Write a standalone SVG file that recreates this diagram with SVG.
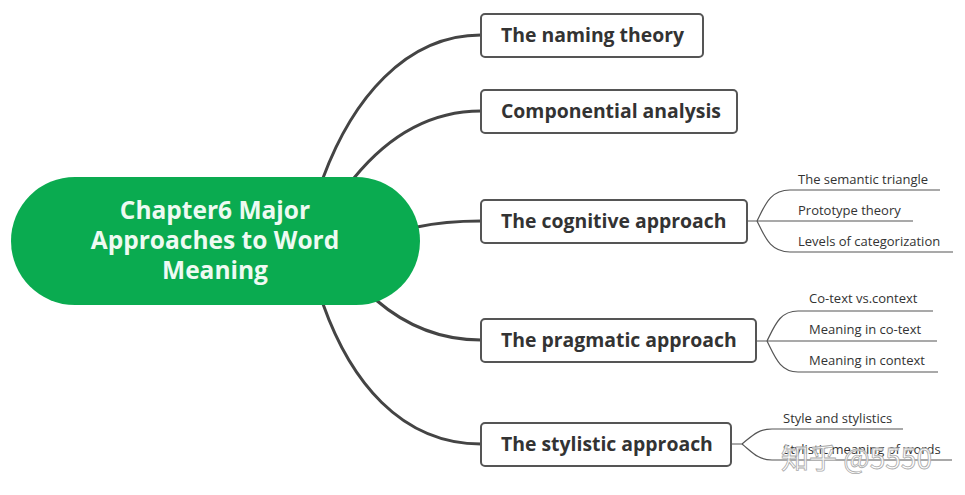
<svg xmlns="http://www.w3.org/2000/svg" width="965" height="495" viewBox="0 0 965 495">
<style>
.main{stroke:#444;stroke-width:3;fill:none}
.sub{stroke:#555;stroke-width:1.2;fill:none}
.box{fill:#fff;stroke:#555;stroke-width:2}
.bt{font-family:"Open Sans","Noto Sans",sans-serif;font-weight:bold;font-size:19.4px;fill:#333}
.lt{font-family:"Open Sans","Noto Sans",sans-serif;font-size:13px;fill:#333}
.ct{font-family:"Open Sans","Noto Sans",sans-serif;font-weight:bold;font-size:24.5px;fill:#eefaf2;text-anchor:middle}
.wm{font-family:"Noto Sans CJK SC","Noto Sans",sans-serif;font-size:28px;fill:#fff;fill-opacity:0.85;stroke:#aaa;stroke-width:0.8}
</style>
<rect width="965" height="495" fill="#fff"/>
<g id="connectors">
<path class="main" d="M323,178 C352,100 405,35 481,35"/>
<path class="main" d="M354,178 C385,140 425,111 481,111"/>
<path class="main" d="M417,227 C440,222 460,221 481,221"/>
<path class="main" d="M376,300 C405,325 440,340 481,340"/>
<path class="main" d="M323,304 C350,380 400,444 481,444"/>
<path class="sub" d="M747,221 H757 C765,205 770,190 790,190 H940"/>
<path class="sub" d="M757,221 H913"/>
<path class="sub" d="M757,221 C765,237 770,252 790,252 H953"/>
<path class="sub" d="M756,341 H767 C775,325 780,311 798,311 H933"/>
<path class="sub" d="M767,341 H937"/>
<path class="sub" d="M767,341 C775,357 780,372 798,372 H938"/>
<path class="sub" d="M731,444 H742 C752,436 758,429 772,429 H903"/>
<path class="sub" d="M742,444 C752,452 758,460 772,460 H952"/>
</g>
<g id="center">
<rect x="11" y="177" width="409" height="128" rx="64" fill="#0aab50"/>
<text class="ct" x="215" y="219">Chapter6 Major</text>
<text class="ct" x="215" y="249">Approaches to Word</text>
<text class="ct" x="215" y="279">Meaning</text>
</g>
<g id="naming">
<rect class="box" x="481" y="14" width="222" height="43" rx="4"/>
<text class="bt" x="501" y="42">The naming theory</text>
</g>
<g id="componential">
<rect class="box" x="481" y="90" width="256" height="43" rx="4"/>
<text class="bt" x="501" y="118">Componential analysis</text>
</g>
<g id="cognitive">
<rect class="box" x="481" y="200" width="266" height="43" rx="4"/>
<text class="bt" x="501" y="228">The cognitive approach</text>
</g>
<g id="pragmatic">
<rect class="box" x="481" y="319" width="275" height="43" rx="4"/>
<text class="bt" x="501" y="347">The pragmatic approach</text>
</g>
<g id="stylistic">
<rect class="box" x="481" y="423" width="250" height="43" rx="4"/>
<text class="bt" x="501" y="451">The stylistic approach</text>
</g>
<g id="leaf-semantic"><text class="lt" x="798" y="184">The semantic triangle</text></g>
<g id="leaf-prototype"><text class="lt" x="798" y="215">Prototype theory</text></g>
<g id="leaf-levels"><text class="lt" x="798" y="246">Levels of categorization</text></g>
<g id="leaf-cotextvs"><text class="lt" x="809" y="303">Co-text vs.context</text></g>
<g id="leaf-incotext"><text class="lt" x="809" y="334">Meaning in co-text</text></g>
<g id="leaf-incontext"><text class="lt" x="809" y="365">Meaning in context</text></g>
<g id="leaf-style"><text class="lt" x="783" y="423">Style and stylistics</text></g>
<g id="leaf-stylisticmeaning"><text class="lt" x="783" y="454">Stylistic meaning of words</text></g>
<text class="wm" x="781" y="469">知乎 @5550</text>
</svg>
